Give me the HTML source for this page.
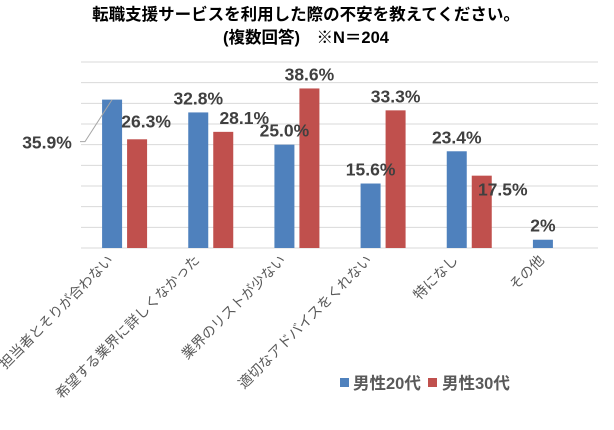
<!DOCTYPE html>
<html><head><meta charset="utf-8">
<style>
html,body{margin:0;padding:0;background:#fff;}
svg{display:block;font-family:"Liberation Sans","Noto Sans CJK JP",sans-serif;}
</style></head>
<body>
<svg id="chart" width="614" height="430">
  <text x="306" y="20" text-anchor="middle" font-size="16.5" font-weight="bold" fill="#000">転職支援サービスを利用した際の不安を教えてください。</text>
  <text x="306" y="43" text-anchor="middle" font-size="16.5" font-weight="bold" fill="#000">(複数回答)　※N＝204</text>
  <g id="grid"></g>
  <g id="bars"></g>
  <g id="labels"></g>
  <g id="cats"></g>
  <g>
    <rect x="340" y="378" width="9" height="9" fill="#4f81bd"/>
    <text x="353" y="389" font-size="16.5" font-weight="bold" fill="#595959">男性20代</text>
    <rect x="428" y="378" width="9" height="9" fill="#c0504d"/>
    <text x="442" y="389" font-size="16.5" font-weight="bold" fill="#595959">男性30代</text>
  </g>
</svg>
<script>
const categories = ["担当者とそりが合わない","希望する業界に詳しくなかった","業界のリストが少ない","適切なアドバイスをくれない","特になし","その他"];
const male20s = [35.9, 32.8, 25.0, 15.6, 23.4, 2];
const male30s = [26.3, 28.1, 38.6, 33.3, 17.5, 0];
const labels20s = ["35.9%","32.8%","25.0%","15.6%","23.4%","2%"];
const labels30s = ["26.3%","28.1%","38.6%","33.3%","17.5%",""];
const yMax = 45, yStep = 5;

const NS = "http://www.w3.org/2000/svg";
const X0 = 81, X1 = 598, Y0 = 248, Y1 = 62;
const bw = (X1 - X0) / categories.length;
function y(v){ return Y0 - v / yMax * (Y0 - Y1); }
function cx(i){ return X0 + bw * (i + 0.5); }
function mk(tag, attrs, parent){
  const e = document.createElementNS(NS, tag);
  for (const k in attrs) e.setAttribute(k, attrs[k]);
  parent.appendChild(e); return e;
}
const grid = document.getElementById('grid');
for (let v = 0; v <= yMax; v += yStep) {
  const l = mk('line', {x1:X0, x2:X1, y1:y(v), y2:y(v), stroke:'#d9d9d9', 'stroke-width':1}, grid);
  
  
}
const bars = document.getElementById('bars');
const lab = document.getElementById('labels');
const cats = document.getElementById('cats');
const FS = 17.5;
categories.forEach((c, i) => {
  const x = cx(i);
  const b1 = mk('rect', {x:x-22, y:y(male20s[i]), width:20, height:Y0-y(male20s[i]), fill:'#4f81bd'}, bars);
  
  
  const b2 = mk('rect', {x:x+3, y:y(male30s[i]), width:20, height:Y0-y(male30s[i]), fill:'#c0504d'}, bars);
  
  

  let lx = x - 12, ly = y(male20s[i]) - 8;
  if (i === 0) { lx = 47; ly = y(male20s[i]) + 49; }
  const t1 = mk('text', {x:lx, y:ly, 'text-anchor':'middle', 'font-size':FS, 'font-weight':'bold', fill:'#404040'}, lab);
  t1.textContent = labels20s[i];
  
  
  if (i === 0) {
    const ln = mk('polyline', {points:(X0-1)+','+(y(male20s[i])+42)+' 85,'+(y(male20s[i])+42)+' '+(x-12)+','+y(male20s[i]), fill:'none', stroke:'#a6a6a6', 'stroke-width':1}, lab);
    
    
  }
  if (labels30s[i]) {
    let rx = x + 13, ry = y(male30s[i]) - 8;
    if (i === 0) { rx = x + 22; ry = y(male30s[i]) - 12; }
    if (i === 1) { rx = x + 34; ry = y(male30s[i]) - 8; }
    if (i === 4) { rx = x + 34; ry = y(male30s[i]) + 20; }
    const t2 = mk('text', {x:rx, y:ry, 'text-anchor':'middle', 'font-size':FS, 'font-weight':'bold', fill:'#404040'}, lab);
    t2.textContent = labels30s[i];
    
    
  }
  const ct = mk('text', {x:0, y:0, 'text-anchor':'end', 'font-size':14, fill:'#595959', transform:'translate('+(x-10)+',261) rotate(-45)'}, cats);
  ct.textContent = c;
  
  
});
</script>
</body></html>
